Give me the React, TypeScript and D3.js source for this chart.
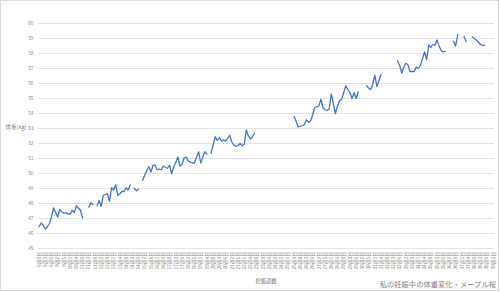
import React from 'react';
import * as d3 from 'd3';

const W = 500;
const H = 292;

// Daily weight (kg); null = no measurement
const weights: (number | null)[] = [
  46.45, 46.7, 46.55, 46.3, 46.45, 46.65, 47.1, 47.7, 47.4, 47.1,
  47.6, 47.45, 47.35, 47.4, 47.3, 47.3, 47.55, 47.4, 47.85, 47.7,
  47.55, 47.05, null, null, 47.75, 48.05, 47.95, null, 47.85, 48.2,
  47.8, 48.55, 48.6, 48.65, 48.15, 49.05, 48.9, 49.25, 48.55, 48.65,
  48.8, 48.8, 49.05, 48.9, 49.25, null, 49.0, 48.85, 48.95, null,
  49.55, 49.9, 50.2, 50.45, 50.1, 50.55, 50.55, 50.25, 50.3, 50.25,
  50.5, 50.4, 50.35, 50.55, 50.0, 50.45, 50.75, 51.1, 50.5, 50.6,
  51.05, 51.1, 50.85, 50.75, 50.7, 50.7, 51.1, 51.45, 50.7, 51.1,
  51.45, 51.3, null, 51.35, 51.9, 52.45, 52.2, 52.4, 52.15, 52.25,
  52.15, 52.35, 52.55, 52.1, 51.9, 51.8, 51.85, 52.0, 51.85, 51.95,
  52.9, 52.5, 52.3, 52.45, 52.7, null, null, null, null, null,
  null, null, null, null, null, null, null, null, null, null,
  null, null, null, 53.8, 53.5, 53.1, 53.15, 53.2, 53.25, 53.6,
  53.4, 53.5, 53.9, 54.4, 54.45, 54.5, 54.95, 54.4, 54.25, 54.2,
  54.3, 55.3, 54.65, 54.0, 54.5, 54.85, 54.95, 55.4, 55.85, 55.6,
  55.4, 55.0, 55.4, 55.0, 55.45, null, null, null, 55.85, 55.7,
  55.6, 55.95, 56.55, 55.8, 56.2, 56.6, null, null, null, null,
  null, null, null, 57.5, 57.2, 56.7, 57.1, 57.35, 57.25, 56.8,
  56.8, 56.8, 57.1, 57.0, 57.2, 57.65, 58.1, 57.6, 58.55, 58.4,
  58.6, 58.55, 58.9, 58.5, 58.2, 58.1, 58.15, null, null, null,
  58.8, 58.5, 59.25, null, null, 59.15, 58.8, null, null, 59.1,
  59.0, 58.9, 58.75, 58.6, 58.55, 58.55, null, null, null, null,
];

const yTicks = [45, 46, 47, 48, 49, 50, 51, 52, 53, 54, 55, 56, 57, 58, 59, 60];

// Category labels, one every 3 days
const labelStep = 3;
const xLabels = [
  '8週0日', '8週3日', '8週6日', '9週2日', '9週5日', '10週1日', '10週4日', '11週0日',
  '11週3日', '11週6日', '12週2日', '12週5日', '13週1日', '13週4日', '14週0日', '14週3日',
  '14週6日', '15週2日', '15週5日', '16週1日', '16週4日', '17週0日', '17週3日', '17週6日',
  '18週2日', '18週5日', '19週1日', '19週4日', '20週0日', '20週3日', '20週6日', '21週2日',
  '21週5日', '22週1日', '22週4日', '23週0日', '23週3日', '23週6日', '24週2日', '24週5日',
  '25週1日', '25週4日', '26週0日', '26週3日', '26週6日', '27週2日', '27週5日', '28週1日',
  '28週4日', '29週0日', '29週3日', '29週6日', '30週2日', '30週5日', '31週1日', '31週4日',
  '32週0日', '32週3日', '32週6日', '33週2日', '33週5日', '34週1日', '34週4日', '35週0日',
  '35週3日', '35週6日', '36週2日', '36週5日', '37週1日', '37週4日', '38週0日', '38週3日',
  '38週6日', '39週2日',
];

const FONT = '"Noto Sans CJK JP", "Noto Sans", sans-serif';

export default function App() {
  const x = d3
    .scaleBand<number>()
    .domain(d3.range(weights.length))
    .range([38, 494])
    .padding(0);
  const y = d3.scaleLinear().domain([45, 60]).range([248.5, 23.5]);
  const cx = (i: number) => (x(i) as number) + x.bandwidth() / 2;

  const line = d3
    .line<number | null>()
    .defined((d) => d != null)
    .x((_, i) => cx(i))
    .y((d) => y(d as number));

  return (
    <svg
      width={W}
      height={H}
      style={{ position: 'absolute', left: 0, top: 0, background: '#fff' }}
      fontFamily={FONT}
    >
      <rect x={0.5} y={0.5} width={W - 2} height={H - 2} fill="#fff" stroke="#d9d9d9" />
      {yTicks.map((t) => (
        <g key={t}>
          <line x1={38} x2={494} y1={y(t)} y2={y(t)} stroke="#e3e3e3" strokeWidth={1} />
          <text x={33.5} y={y(t)} dy="0.35em" textAnchor="end" fontSize={4.8} fill="#808080">
            {t}
          </text>
        </g>
      ))}
      <text x={16} y={127} dy="0.35em" textAnchor="middle" fontSize={5.5} fill="#7a7a7a">
        体重(kg)
      </text>
      {xLabels.map((lab, k) => {
        const i = k * labelStep;
        return (
          <text
            key={k}
            transform={`translate(${cx(i) + 1.7},252) rotate(-90)`}
            textAnchor="end"
            fontSize={4.8}
            fill="#8c8c8c"
          >
            {lab}
          </text>
        );
      })}
      <text x={266} y={281} dy="0.35em" textAnchor="middle" fontSize={5.3} fill="#7a7a7a">
        妊娠週数
      </text>
      <path
        d={line(weights) || ''}
        fill="none"
        stroke="#4472C4"
        strokeWidth={1.3}
        strokeLinejoin="round"
        strokeLinecap="round"
      />
      <text x={496} y={284} dy="0.35em" textAnchor="end" fontSize={7.3} fill="#808080">
        私の妊娠中の体重変化・メープル桜
      </text>
    </svg>
  );
}
